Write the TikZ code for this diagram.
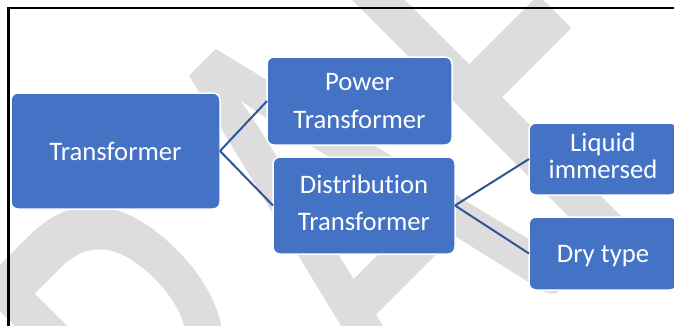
\documentclass[tikz,border=0pt]{standalone}
\usepackage{fontspec}
\newfontfamily\calfont[Ligatures=NoCommon]{Carlito}
\newfontfamily\wmfont[Kerning=Off]{Carlito}
\definecolor{boxblue}{HTML}{4472C4}
\definecolor{linkblue}{HTML}{2F5597}
\definecolor{wmgray}{HTML}{DDDDDD}
\begin{document}
\begin{tikzpicture}[x=1pt,y=-1pt,
  box/.style={draw=white, line width=1.5pt, fill=boxblue, rounded corners=7pt,
    text=white, align=center, inner sep=0pt, outer sep=0pt},
  lines/.style={font=\calfont\fontsize{26.7}{#1}\selectfont},
  link/.style={draw=linkblue, line width=2pt},
  frame/.style={draw=black, line width=2.4pt}]
\useasboundingbox (0,0) rectangle (674,325);
\begin{scope}
\clip (0,0) rectangle (674,325);
% watermark
\begin{scope}[shift={(66.0pt,-785.3pt)}, cm={2.970,2.970,-4.561,4.561,(0pt,0pt)}]
\node[transform shape, anchor=base west, inner sep=0pt, outer sep=0pt, text=wmgray,
  font=\wmfont\fontsize{100}{100}\selectfont] (wm) at (0pt,0pt) {DRAFT};
\end{scope}
% frame
\draw[frame] (8.3,340) -- (8.3,8.2) -- (690,8.2);
% boxes
\node[box, lines=32, minimum width=209pt, minimum height=116pt] (tr) at (115.5,151) {Transformer};
\node[box, lines=38.4, minimum width=185pt, minimum height=88pt] (pw) at (359.5,101) {Power\\Transformer};
\node[box, lines=37.3, minimum width=182pt, minimum height=97pt] (ds) at (364,205.5) {Distribution\\Transformer\rule[-6pt]{0pt}{0pt}};
\node[box, lines=27.3, minimum width=148pt, minimum height=72pt] (lq) at (603,159) {Liquid\\immersed\rule[-6pt]{0pt}{0pt}};
\node[box, lines=32, minimum width=148pt, minimum height=73pt] (dr) at (603,253.5) {\rule{0pt}{21.9pt}Dry type};
% connectors
\draw[link] (tr.east) -- (pw.west);
\draw[link] (tr.east) -- (ds.west);
\draw[link] (ds.east) -- (lq.west);
\draw[link] (ds.east) -- (dr.west);
\end{scope}
\end{tikzpicture}
\end{document}
